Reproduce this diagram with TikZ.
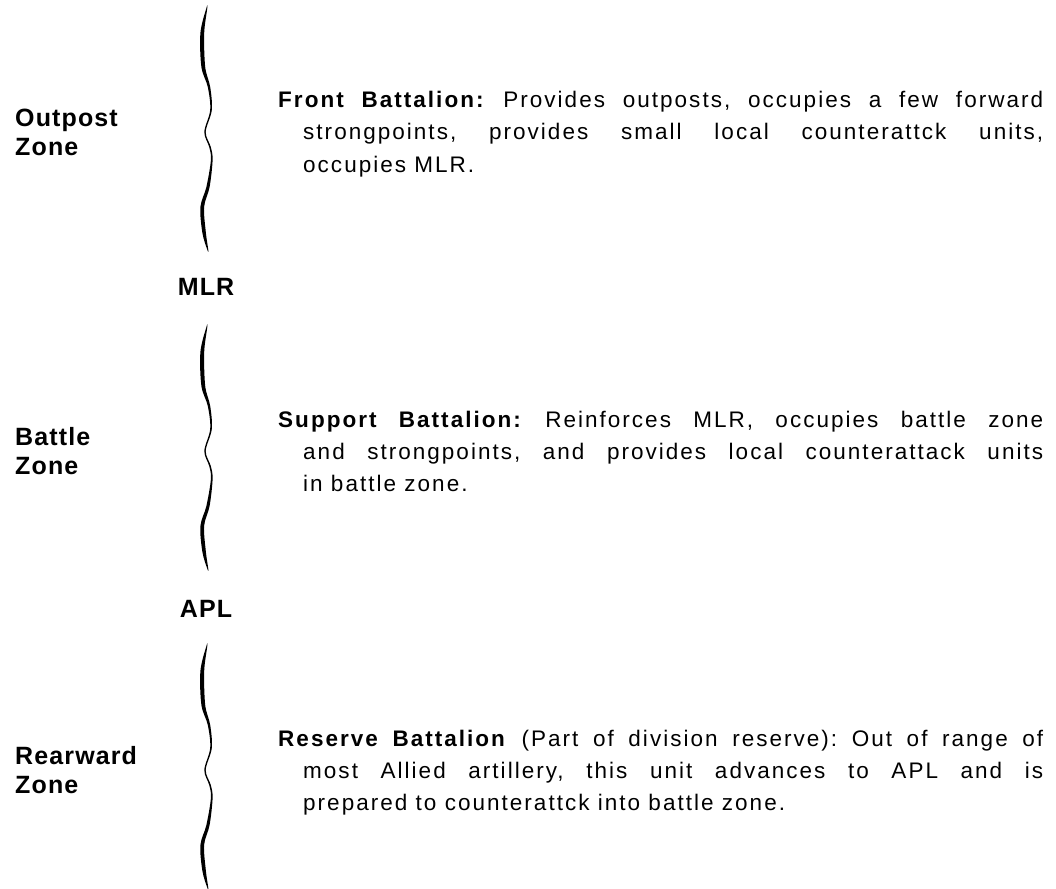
\documentclass[tikz,border=0pt]{standalone}
\usepackage{fontspec}
\setmainfont{Liberation Sans}
\newfontfamily\bodyfont{Liberation Sans}[LetterSpace=9]
\newfontfamily\labelfont{Liberation Sans}[LetterSpace=4.5]
\usepackage{tikz}
\frenchspacing

\tikzset{
  zonelabel/.style={anchor=base west, inner sep=0pt, text width=140pt,
    font=\labelfont\bfseries\fontsize{25}{29.5}\selectfont},
  linelabel/.style={anchor=base, inner sep=0pt,
    font=\labelfont\bfseries\fontsize{25}{29.5}\selectfont},
  duty/.style={anchor=base west, inner sep=0pt,
    font=\bodyfont\fontsize{22.5}{32}\selectfont},
}
% justified block, continuation lines indented
\newcommand{\dutytext}[1]{\parbox[t]{765pt}{\leftskip=25pt\hspace*{-25pt}#1}}

\begin{document}
\begin{tikzpicture}[x=1pt,y=-1pt]
\useasboundingbox (0,0) rectangle (1056,888);

% Braces (one per zone, kink at the middle)
\foreach \k in {132,451,770}{
  \fill[black, shift={(205,\k)}] plot[smooth cycle, tension=0.55] coordinates {
    (2.3,-124) (-0.8,-99) (0.2,-65) (5.2,-45) (6.8,-22) (0.7,0) (5.8,15) (7.6,28)
    (4.6,55) (-0.9,75) (0.9,101) (3.3,118)
    (2.4,118) (-2.6,101) (-4.6,75) (1.4,55) (5.9,28) (4.2,15) (-0.7,0) (5.2,-22)
    (2.8,-45) (-3.6,-65) (-4.6,-99) (1.4,-124)};
}

% Zones
\node[zonelabel] (outpost) at (15,126) {Outpost\\Zone};
\node[zonelabel] (battle) at (15,445) {Battle\\Zone};
\node[zonelabel] (rearward) at (15,764) {Rearward\\Zone};

% Lines between zones
\node[linelabel] (mlr) at (206,295) {MLR};
\node[linelabel] (apl) at (206,617) {APL};

% Battalion tasks
\node[duty] (front) at (278,108) {\dutytext{%
  \textbf{Front Battalion:} Provides outposts, occupies a few forward\linebreak
  strongpoints, provides small local counterattck units,\linebreak
  occupies MLR.}};

\node[duty] (support) at (278,427) {\dutytext{%
  \textbf{Support Battalion:} Reinforces MLR, occupies battle zone\linebreak
  and strongpoints, and provides local counterattack units\linebreak
  in battle zone.}};

\node[duty] (reserve) at (278,746) {\dutytext{%
  \textbf{Reserve Battalion} (Part of division reserve): Out of range of\linebreak
  most Allied artillery, this unit advances to APL and is\linebreak
  prepared to counterattck into battle zone.}};
\end{tikzpicture}
\end{document}
